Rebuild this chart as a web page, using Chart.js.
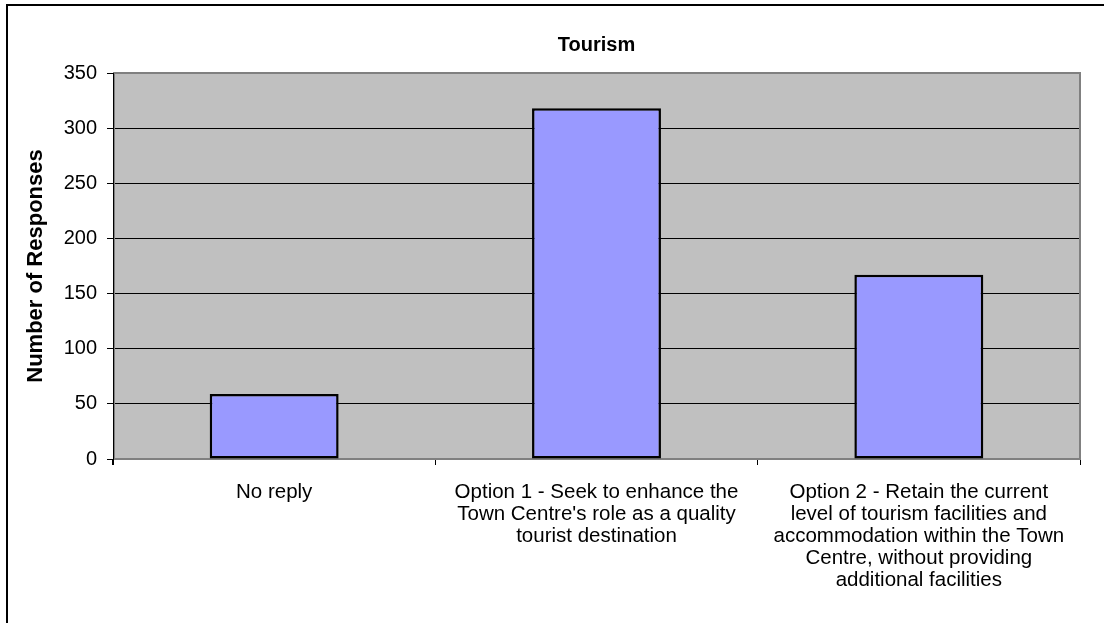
<!DOCTYPE html>
<html>
    <head>
        <meta charset="UTF-8">
        <title>Tourism</title>
        <script src="https://cdn.jsdelivr.net/npm/chart.js@4"></script>
        <style>
            html, body {
                margin: 0;
                padding: 0;
                background: #fff;
            }
            #wrap {
                width: 1104px;
                height: 623px;
            }
        </style>
    </head>
    <body>
        <div id="wrap"><canvas id="tourismChart"></canvas></div>
        <script>
            // survey answers, one label line per array item
            const categories = [
                ['No reply'],
                ['Option 1 - Seek to enhance the', "Town Centre's role as a quality", 'tourist destination'],
                ['Option 2 - Retain the current', 'level of tourism facilities and', 'accommodation within the Town', 'Centre, without providing', 'additional facilities']
            ];
            const responses = [59, 318, 167];
            const yTicks = [0, 50, 100, 150, 200, 250, 300, 350];
            const chartTitle = 'Tourism';
            const yTitle = 'Number of Responses';

            const FONT = '"Liberation Sans", Arial, sans-serif';

            // grey plot background, frame and title
            const decor = {
                id: 'decor',
                beforeDraw(chart) {
                    const ctx = chart.ctx;
                    const a = chart.chartArea;
                    ctx.save();
                    ctx.fillStyle = '#fff';
                    ctx.fillRect(0, 0, chart.width, chart.height);
                    ctx.fillStyle = '#000';
                    ctx.fillRect(6, 4, chart.width, 2);
                    ctx.fillRect(6, 4, 2, chart.height);
                    ctx.fillStyle = '#c0c0c0';
                    ctx.fillRect(a.left, a.top, a.right - a.left, a.bottom - a.top);
                    ctx.restore();
                },
                beforeDatasetsDraw(chart) {
                    const ctx = chart.ctx;
                    const a = chart.chartArea;
                    ctx.save();
                    ctx.strokeStyle = '#808080';
                    ctx.lineWidth = 2;
                    ctx.strokeRect(a.left + 1, a.top, a.right - a.left - 1, a.bottom - a.top);
                    ctx.strokeStyle = '#000';
                    ctx.lineWidth = 1;
                    ctx.beginPath();
                    ctx.moveTo(a.left + 0.5, a.top);
                    ctx.lineTo(a.left + 0.5, a.bottom + 6);
                    ctx.stroke();
                    ctx.fillStyle = '#000';
                    ctx.font = 'bold 20px ' + FONT;
                    ctx.textAlign = 'center';
                    ctx.textBaseline = 'middle';
                    ctx.fillText(chartTitle, (a.left + a.right) / 2, 45);
                    ctx.restore();
                }
            };

            new Chart(document.getElementById('tourismChart'), {
                type: 'bar',
                data: {
                    labels: categories,
                    datasets: [{
                        data: responses,
                        backgroundColor: '#9999ff',
                        borderColor: '#000',
                        borderWidth: 2.5,
                        borderSkipped: false,
                        categoryPercentage: 1,
                        barPercentage: 0.4
                    }]
                },
                options: {
                    responsive: true,
                    maintainAspectRatio: false,
                    animation: false,
                    layout: {
                        padding: { left: 0, top: 73, right: 24, bottom: 0 }
                    },
                    plugins: {
                        legend: { display: false },
                        tooltip: { enabled: false }
                    },
                    scales: {
                        x: {
                            afterFit(scale) { scale.height = 164; },
                            border: { display: false },
                            grid: {
                                offset: true,
                                drawOnChartArea: false,
                                drawTicks: true,
                                tickLength: 6,
                                tickColor: '#000'
                            },
                            ticks: {
                                color: '#000',
                                padding: 16,
                                maxRotation: 0,
                                autoSkip: false,
                                font: { family: FONT, size: 20.5, lineHeight: 1.08 }
                            }
                        },
                        y: {
                            min: 0,
                            max: 350,
                            afterFit(scale) { scale.width = 113; },
                            afterBuildTicks(scale) {
                                scale.ticks = yTicks.map(v => ({ value: v }));
                            },
                            border: { display: false },
                            grid: {
                                color: ctx => (ctx.tick && ctx.tick.value === 350) ? 'rgba(0,0,0,0)' : '#000',
                                lineWidth: 1,
                                drawTicks: true,
                                tickLength: 6,
                                tickColor: '#000'
                            },
                            ticks: {
                                color: '#000',
                                padding: 10,
                                font: { family: FONT, size: 20 }
                            },
                            title: {
                                display: true,
                                text: yTitle,
                                color: '#000',
                                padding: { top: 23, bottom: 0 },
                                font: { family: FONT, size: 22, weight: 'bold' }
                            }
                        }
                    }
                },
                plugins: [decor]
            });
        </script>
    </body>
</html>
